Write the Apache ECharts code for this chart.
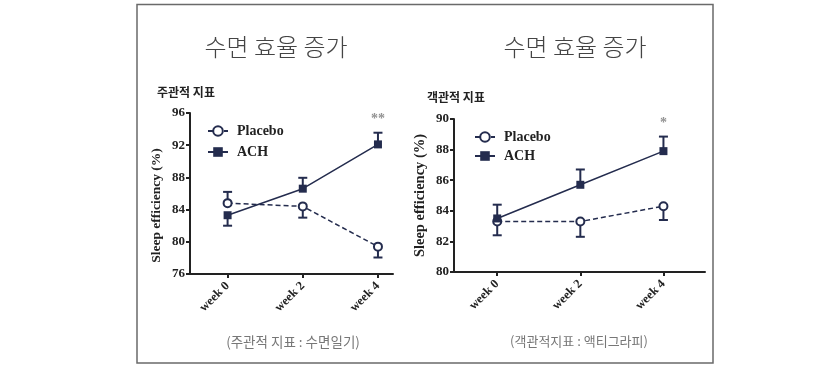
<!DOCTYPE html>
<html><head><meta charset="utf-8">
<script src="https://cdn.jsdelivr.net/npm/echarts@6/dist/echarts.min.js"></script>
<style>html,body{margin:0;padding:0;background:#fff}#c{width:840px;height:368px}</style>
</head><body><div id="c"></div>
<script>
const weeks = ['week 0', 'week 2', 'week 4'];
// Left: subjective (sleep diary)
const subjPlacebo = [84.8, 84.4, 79.4];
const subjPlaceboErr = [1.4, 1.4, 1.35];
const subjPlaceboDir = [1, -1, -1];
const subjACH = [83.3, 86.6, 92.1];
const subjACHErr = [1.3, 1.35, 1.45];
const subjACHDir = [-1, 1, 1];
const subjSig = ['', '', '**'];
const subjSigY = [0, 0, 95.2];
// Right: objective (actigraphy)
const objPlacebo = [83.3, 83.3, 84.3];
const objPlaceboErr = [0.9, 1.0, 0.9];
const objPlaceboDir = [-1, -1, -1];
const objACH = [83.5, 85.7, 87.9];
const objACHErr = [0.9, 1.0, 0.95];
const objACHDir = [1, 1, 1];
const objSig = ['', '', '*'];
const objSigY = [0, 0, 89.7];
const subjTicks = [76, 80, 84, 88, 92, 96];
const objTicks = [80, 82, 84, 86, 88, 90];

const NAVY = '#242c4e';
const SERIF = '"Liberation Serif", "DejaVu Serif", serif';
const KR = '"Noto Sans CJK KR", sans-serif';

function pts(arr){ return arr.map((v,i)=>[i,v]); }
function errData(vals, errs, dirs){ return vals.map((v,i)=>[i, v, errs[i], dirs[i]]); }
function errSeries(name, vals, errs, dirs, idx){
  return {
    type:'custom', name: name, xAxisIndex: idx, yAxisIndex: idx, z: 1, silent: true,
    data: errData(vals, errs, dirs),
    renderItem: function(params, api){
      const x = api.value(0), v = api.value(1), e = api.value(2), d = api.value(3);
      const p = api.coord([x, v]);
      const q = api.coord([x, v + d*e]);
      const st = {stroke: NAVY, lineWidth: 2};
      return {type:'group', children:[
        {type:'line', shape:{x1:p[0], y1:p[1], x2:q[0], y2:q[1]}, style: st},
        {type:'line', shape:{x1:q[0]-4.5, y1:q[1], x2:q[0]+4.5, y2:q[1]}, style: st}
      ]};
    }
  };
}
function sigSeries(labels, ys, idx){
  return {
    type:'scatter', xAxisIndex: idx, yAxisIndex: idx, symbolSize: 0, silent: true,
    data: ys.map((y,i)=>({value:[i,y], label:{show: labels[i] !== '', formatter: labels[i]}})),
    label:{position:'inside', color:'#777', fontFamily: SERIF, fontWeight:'bold', fontSize: 14}
  };
}
function lineSeries(name, vals, idx, dashed){
  return {
    type:'line', name: name, xAxisIndex: idx, yAxisIndex: idx, z: 3,
    data: pts(vals),
    symbol: dashed ? 'emptyCircle' : 'rect',
    symbolSize: 8,
    showAllSymbol: true,
    lineStyle:{color: NAVY, width: 1.5, type: dashed ? [5,3] : 'solid'},
    itemStyle:{color: NAVY, borderColor: NAVY, borderWidth: dashed ? 2 : 0},
    emphasis:{disabled:true}
  };
}
function xAxis(idx, min, max){
  return {
    type:'value', gridIndex: idx, min: min, max: max,
    axisLine:{onZero:false, lineStyle:{color:'#222', width:2}},
    axisTick:{customValues:[0,1,2], length:4, lineStyle:{color:'#222', width:2}},
    axisLabel:{customValues:[0,1,2], rotate:45, margin:10, formatter: v => weeks[Math.round(v)] || '',
      fontFamily: SERIF, fontWeight:'bold', fontSize: 12.5, color:'#222'},
    splitLine:{show:false}
  };
}
function yAxis(idx, ticks, gap, nameSize, namePad){
  return {
    type:'value', gridIndex: idx, min: ticks[0], max: ticks[ticks.length-1],
    interval: ticks[1]-ticks[0],
    name:'Sleep efficiency (%)', nameLocation:'middle', nameGap: gap, nameRotate: 90,
    nameTextStyle:{fontFamily: SERIF, fontWeight:'bold', fontSize: nameSize, color:'#222', padding: namePad},
    axisLine:{show:true, onZero:false, lineStyle:{color:'#222', width:2}},
    axisTick:{show:true, length:4, lineStyle:{color:'#222', width:2}},
    axisLabel:{margin:5, fontFamily: SERIF, fontWeight:'bold', fontSize: 13, color:'#222'},
    splitLine:{show:false}
  };
}

const legendText = {fontFamily:SERIF, fontWeight:'bold', fontSize:14, color:'#222', padding:[0,0,0,4]};
const chart = echarts.init(document.getElementById('c'), null, {renderer:'canvas'});
chart.setOption({
  animation:false,
  backgroundColor:'#fff',
  graphic:[{type:'rect', shape:{x:137, y:4.5, width:576, height:358.5}, style:{fill:'none', stroke:'#6a6a6a', lineWidth:1.5}, silent:true}],
  title:[
    {text:'수면 효율 증가', left:276, top:35, padding:0, textAlign:'center', textStyle:{fontFamily:KR, fontWeight:300, fontSize:24, color:'#444'}},
    {text:'수면 효율 증가', left:575, top:35, padding:0, textAlign:'center', textStyle:{fontFamily:KR, fontWeight:300, fontSize:24, color:'#444'}},
    {text:'주관적 지표', left:157, top:86, padding:0, textStyle:{fontFamily:KR, fontWeight:'bold', fontSize:12, color:'#222'}},
    {text:'객관적 지표', left:427, top:91, padding:0, textStyle:{fontFamily:KR, fontWeight:'bold', fontSize:12, color:'#222'}},
    {text:'(주관적 지표 : 수면일기)', left:293, top:335, padding:0, textAlign:'center', textStyle:{fontFamily:KR, fontWeight:'normal', fontSize:13.5, color:'#777'}},
    {text:'(객관적지표 : 액티그라피)', left:579, top:335, padding:0, textAlign:'center', textStyle:{fontFamily:KR, fontWeight:'normal', fontSize:13, color:'#777'}}
  ],
  legend:[
    {data:['Placebo','ACH'], orient:'vertical', left:207, top:124, padding:0, itemWidth:20, itemHeight:12, itemGap:7,
     textStyle:legendText, selectedMode:false},
    {data:['Placebo ','ACH '], orient:'vertical', left:474, top:130, padding:0, itemWidth:20, itemHeight:12, itemGap:5,
     textStyle:legendText, selectedMode:false, formatter: n => n.trim()}
  ],
  grid:[
    {left:190, top:113, width:203, height:161},
    {left:454, top:119, width:251, height:153}
  ],
  xAxis:[xAxis(0, -0.5, 2.2), xAxis(1, -0.52, 2.5)],
  yAxis:[yAxis(0, subjTicks, 26, 13.5, [0, 24, 0, 0]), yAxis(1, objTicks, 26, 14.5, 0)],
  series:[
    errSeries('ePlacebo', subjPlacebo, subjPlaceboErr, subjPlaceboDir, 0),
    errSeries('eACH', subjACH, subjACHErr, subjACHDir, 0),
    lineSeries('Placebo', subjPlacebo, 0, true),
    lineSeries('ACH', subjACH, 0, false),
    sigSeries(subjSig, subjSigY, 0),
    errSeries('ePlacebo2', objPlacebo, objPlaceboErr, objPlaceboDir, 1),
    errSeries('eACH2', objACH, objACHErr, objACHDir, 1),
    lineSeries('Placebo ', objPlacebo, 1, true),
    lineSeries('ACH ', objACH, 1, false),
    sigSeries(objSig, objSigY, 1)
  ]
});
</script></body></html>
